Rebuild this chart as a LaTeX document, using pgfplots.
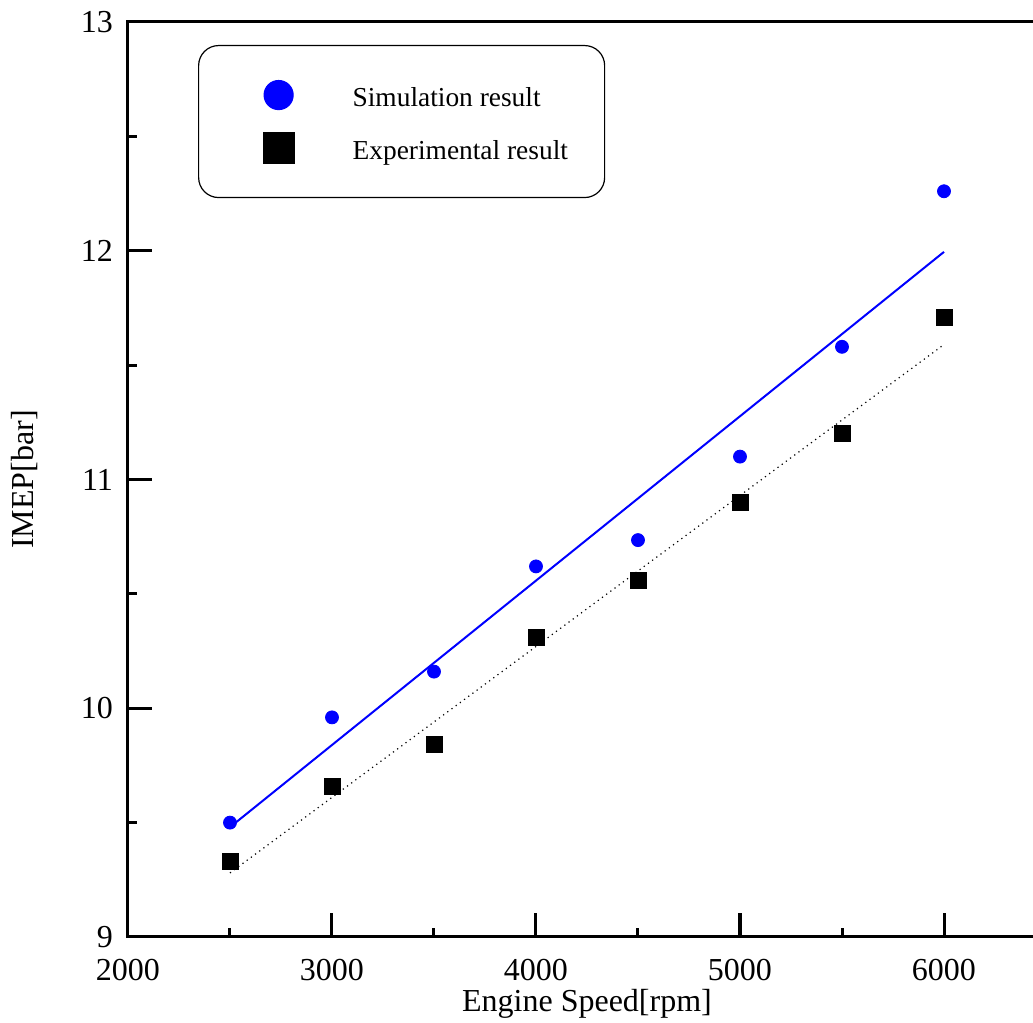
\documentclass[border=0pt]{standalone}
\usepackage{fontspec}
\setmainfont{Liberation Serif}
\usepackage{pgfplots}
\pgfplotsset{compat=1.18}

\begin{document}
\begin{tikzpicture}
\begin{axis}[name=ax,
    scale only axis, width=459pt, height=457.5pt,
    xmin=2000, xmax=6500, ymin=9, ymax=13,
    xtick={2000,3000,4000,5000,6000}, ytick={9,10,11,12,13},
    minor x tick num=1, minor y tick num=1,
    xtick pos=left, ytick pos=left,
    tick align=inside,
    major tick length=12pt, minor tick length=4.5pt,
    every tick/.style={black, line width=1.5pt},
    axis line style={line width=1.5pt},
    /pgf/number format/assume math mode=true,
    /pgf/number format/1000 sep={},
    ticklabel style={font=\fontsize{16}{18}\selectfont},
    xticklabel style={yshift=-7.5pt},
    yticklabel style={xshift=-4pt},
    every axis x label/.style={at={(axis description cs:0.5,-0.0732)}, anchor=center, font=\fontsize{16}{18}\selectfont},
    every axis y label/.style={at={(axis description cs:-0.1122,0.5)}, rotate=90, anchor=center, font=\fontsize{16}{18}\selectfont},
    xlabel={Engine Speed[rpm]},
    ylabel={IMEP[bar]},
    legend cell align=left,
    legend style={at={(axis description cs:0.0763,0.9749)}, anchor=north west,
        draw=black, line width=0.6pt, rounded corners=10pt,
        inner xsep=0pt, inner ysep=11.5pt,
        nodes={inner sep=0pt, yshift=-1.5pt, font=\fontsize{13.7}{15}\selectfont},
        /tikz/every odd column/.style={column sep=0pt}},
]
% fitted lines
\addplot[blue, line width=1pt, forget plot] coordinates {(2500,9.48) (6000,11.995)};
\addplot[black, line width=0.6pt, dotted, forget plot] coordinates {(2500,9.28) (6000,11.59)};

\addplot[only marks, mark=*, mark size=3.25pt, color=blue, fill=blue,
    legend image code/.code={\path[draw=none, fill=none] (-40pt,-13.25pt) rectangle (37pt,13.25pt);
        \draw[mark size=7.25pt] plot coordinates {(0pt,0pt)};}]
coordinates {
(2500,9.50) (3000,9.96) (3500,10.16) (4000,10.62)
(4500,10.735) (5000,11.10) (5500,11.58) (6000,12.26)
};
\addlegendentry{\makebox[126pt][l]{Simulation result}}

\addplot[only marks, mark=square*, mark size=4pt, color=black, fill=black,
    legend image code/.code={\path[draw=none, fill=none] (-40pt,-13.25pt) rectangle (37pt,13.25pt);
        \draw[mark size=7.75pt] plot coordinates {(0pt,0pt)};}]
coordinates {
(2500,9.33) (3000,9.66) (3500,9.84) (4000,10.31)
(4500,10.56) (5000,10.90) (5500,11.20) (6000,11.71)
};
\addlegendentry{\makebox[126pt][l]{Experimental result}}
\end{axis}
\pgfresetboundingbox
\useasboundingbox ([xshift=-64pt,yshift=-43pt]ax.south west) rectangle ([xshift=452.5pt,yshift=11pt]ax.north west);
\end{tikzpicture}
\end{document}
